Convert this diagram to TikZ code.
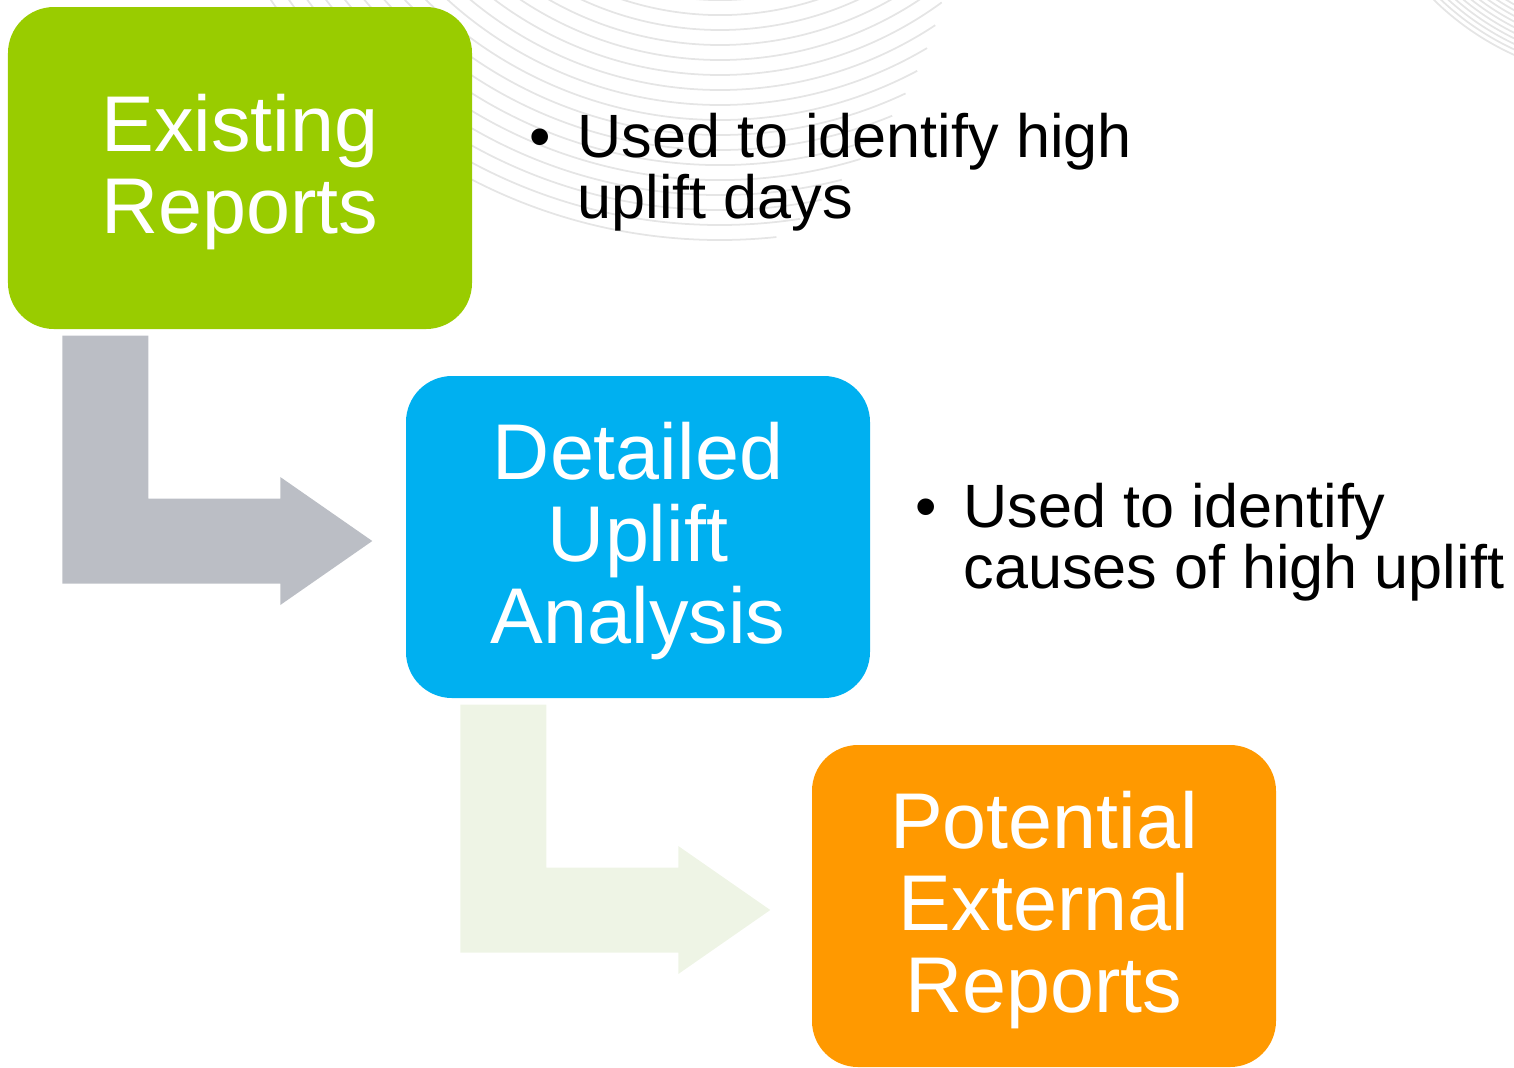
\documentclass[tikz,border=0pt]{standalone}
\usepackage{fontspec}
\setmainfont{Liberation Sans}
\usetikzlibrary{calc}
\definecolor{reportgreen}{HTML}{99CC00}
\definecolor{upliftblue}{HTML}{00B0F0}
\definecolor{externorange}{HTML}{FF9900}
\definecolor{stepgray}{HTML}{BBBEC5}
\definecolor{steplight}{HTML}{EEF4E5}
\tikzset{
    stage/.style={rounded corners=4.6mm, minimum width=4.64cm, minimum height=3.22cm,
        inner sep=0pt, text=white, align=center, text depth=0.8mm,
        font=\fontsize{22.5}{23.3}\selectfont},
    note/.style={anchor=north west, inner sep=0pt, align=left,
        font=\fontsize{17.4}{17.4}\selectfont},
    swirl/.style={gray!20, line width=0.5pt},
}
% bent arrow: from, to, colour, gap before the tip
\newcommand{\bentarrow}[4]{%
  \fill[#3] let \p1=(#1.south west), \p2=(#2.west) in
    (\x1+5.5mm,\y1-0.6mm) -- (\x1+14.1mm,\y1-0.6mm) -- (\x1+14.1mm,\y2+3.85mm)
    -- (\x2-#4-9.2mm,\y2+3.85mm) -- (\x2-#4-9.2mm,\y2+6.0mm) -- (\x2-#4,\y2-0.4mm)
    -- (\x2-#4-9.2mm,\y2-6.8mm) -- (\x2-#4-9.2mm,\y2-4.65mm)
    -- (\x1+5.5mm,\y2-4.65mm) -- cycle;
}

\begin{document}
\begin{tikzpicture}
  \useasboundingbox (0,0) rectangle (15.14,-10.67);

  % background lines
  \begin{scope}
    \clip (0,0) rectangle (15.14,-10.67);
    \foreach \k [evaluate=\k as \r using 3.0+0.15*\k,
                 evaluate=\k as \e using 320-2.75*\k] in {0,...,16}
      \draw[swirl] ([shift={(200:\r)}]7.2,3.0) arc[start angle=200, end angle=\e, radius=\r];
    \foreach \k [evaluate=\k as \r using 2.3+0.05*\k] in {0,...,10}
      \draw[swirl] ([shift={(215:\r)}]16.3,2.0) arc[start angle=215, end angle=265, radius=\r];
  \end{scope}

  % boxes
  \node[stage, fill=reportgreen] (existing) at (2.40,-1.68) {Existing\\Reports};
  \node[stage, fill=upliftblue] (detailed) at (6.38,-5.37) {Detailed\\Uplift\\Analysis};
  \node[stage, fill=externorange] (external) at (10.44,-9.06) {Potential\\External\\Reports};

  % arrows
  \bentarrow{existing}{detailed}{stepgray}{3.3mm}
  \bentarrow{detailed}{external}{steplight}{4.1mm}

  % notes
  \node[note] (highdays) at (5.29,-1.125)
    {\makebox[4.8mm][l]{\textbullet}Used to identify high\\\hspace*{4.8mm}uplift days};
  \node[note] (causes) at (9.15,-4.825)
    {\makebox[4.8mm][l]{\textbullet}Used to identify\\\hspace*{4.8mm}causes of high uplift};
\end{tikzpicture}
\end{document}
